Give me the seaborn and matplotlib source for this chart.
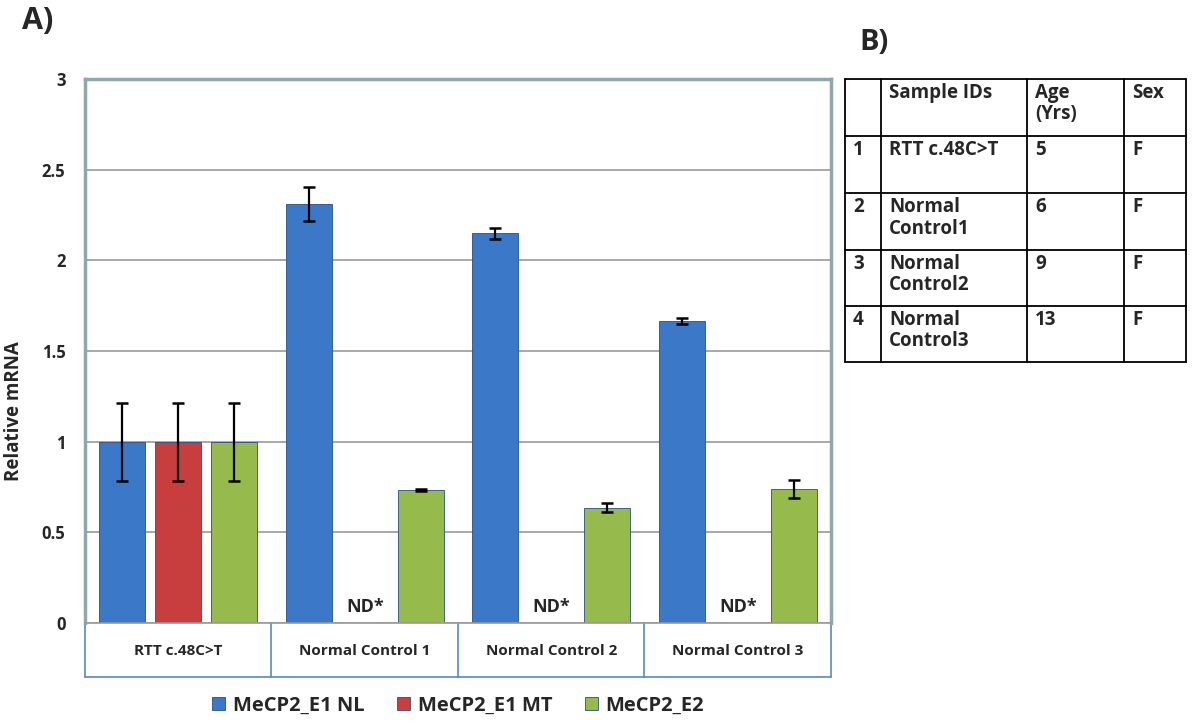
import numpy as np
import pandas as pd
import seaborn as sns
import matplotlib.pyplot as plt

sns.set_theme(style='white')
plt.rcParams['font.family'] = ['Open Sans', 'DejaVu Sans']
plt.rcParams['font.weight'] = 'bold'

samples = ['RTT c.48C>T', 'Normal Control 1', 'Normal Control 2', 'Normal Control 3']
series = ['MeCP2_E1 NL', 'MeCP2_E1 MT', 'MeCP2_E2']
e1_nl = [1.0, 2.31, 2.15, 1.665]
e1_nl_err = [0.215, 0.095, 0.03, 0.015]
e1_mt = [1.0, np.nan, np.nan, np.nan]
e1_mt_err = [0.215, np.nan, np.nan, np.nan]
e2 = [1.0, 0.735, 0.635, 0.74]
e2_err = [0.215, 0.005, 0.025, 0.05]
colors = ['#3C78C8', '#C83E3E', '#96BA4C']

table_rows = [['', 'Sample IDs', 'Age\n(Yrs)', 'Sex'],
              ['1', 'RTT c.48C>T', '5', 'F'],
              ['2', 'Normal\nControl1', '6', 'F'],
              ['3', 'Normal\nControl2', '9', 'F'],
              ['4', 'Normal\nControl3', '13', 'F']]

df = pd.DataFrame({
    'sample': samples * 3,
    'series': [s for s in series for _ in samples],
    'value': e1_nl + e1_mt + e2,
    'err': e1_nl_err + e1_mt_err + e2_err,
})

fig = plt.figure(figsize=(12, 7.27), dpi=100)
ax = fig.add_axes([0.0708, 0.1431, 0.6217, 0.7482])

sns.barplot(data=df, x='sample', y='value', hue='series', order=samples,
            hue_order=series, palette=colors, width=0.9, gap=0.18,
            errorbar=None, saturation=1, edgecolor='#2a4f80', linewidth=0.6,
            legend=True, ax=ax)

# error bars at the bar centres (slot width = 0.9 / 3)
slot = 0.9 / 3
for k, s in enumerate(series):
    sub = df[df['series'] == s].set_index('sample').loc[samples]
    for i, (_, row) in enumerate(sub.iterrows()):
        xc = i + (k - 1) * slot
        if np.isnan(row['value']):
            ax.text(xc, 0.04, 'ND*', ha='center', va='bottom',
                    fontsize=13, fontweight='bold')
            continue
        ax.errorbar(xc, row['value'], yerr=row['err'], color='black',
                    capsize=4, capthick=1.8, elinewidth=1.6, zorder=5)

ax.set_ylim(0, 3)
ax.set_xlim(-0.5, 3.5)
ax.set_yticks(np.arange(0, 3.01, 0.5))
ax.set_yticklabels(['0', '0.5', '1', '1.5', '2', '2.5', '3'],
                   fontsize=12, fontweight='bold')
ax.yaxis.grid(True, color='#9a9a9a', linewidth=1.2)
ax.set_axisbelow(True)
ax.tick_params(axis='y', length=0, pad=14)
ax.set_ylabel('Relative mRNA', fontsize=13.5, fontweight='bold')
ax.yaxis.set_label_coords(-0.082, 0.39)
ax.set_xlabel('')
ax.set_xticks(range(4))
ax.set_xticklabels(samples, fontsize=11, fontweight='bold')
ax.tick_params(axis='x', length=0, pad=15)

for side in ['left', 'top', 'right']:
    ax.spines[side].set_color('#8fa8ac')
    ax.spines[side].set_linewidth(2.5)
ax.spines['bottom'].set_color('#9a9a9a')
ax.spines['bottom'].set_linewidth(1.2)

# category axis box
box_depth = -0.1
for xb in np.linspace(0, 1, 5):
    ax.plot([xb, xb], [0, box_depth], transform=ax.transAxes, color='#5a86c8',
            linewidth=1.2, clip_on=False)
ax.plot([0, 1], [box_depth, box_depth], transform=ax.transAxes,
        color='#5a86c8', linewidth=1.2, clip_on=False)

ax.legend(loc='upper center', bbox_to_anchor=(0.5, -0.1), ncol=3,
          frameon=False, handlelength=0.65, handleheight=0.65,
          columnspacing=1.6, handletextpad=0.4,
          prop={'weight': 'bold', 'size': 14.5})

fig.text(0.018, 0.971, 'A)', fontsize=22, fontweight='bold', va='center')
fig.text(0.716, 0.942, 'B)', fontsize=21, fontweight='bold', va='center')

# table B
col_x = [845, 881, 1027, 1124, 1186]
row_y = [79, 136, 193, 250, 306, 362]
W, H = 1200, 727
for xv in col_x:
    fig.add_artist(plt.Line2D([xv / W, xv / W], [1 - row_y[0] / H, 1 - row_y[-1] / H],
                              color='black', linewidth=1.3))
for yv in row_y:
    fig.add_artist(plt.Line2D([col_x[0] / W, col_x[-1] / W], [1 - yv / H, 1 - yv / H],
                              color='black', linewidth=1.3))
for r, row in enumerate(table_rows):
    for c, txt in enumerate(row):
        if not txt:
            continue
        fig.text((col_x[c] + 8) / W, 1 - (row_y[r] + 4) / H, txt,
                 fontsize=13.5, fontweight='bold', va='top', ha='left',
                 linespacing=1.1)

fig.savefig('out.png', dpi=100)
